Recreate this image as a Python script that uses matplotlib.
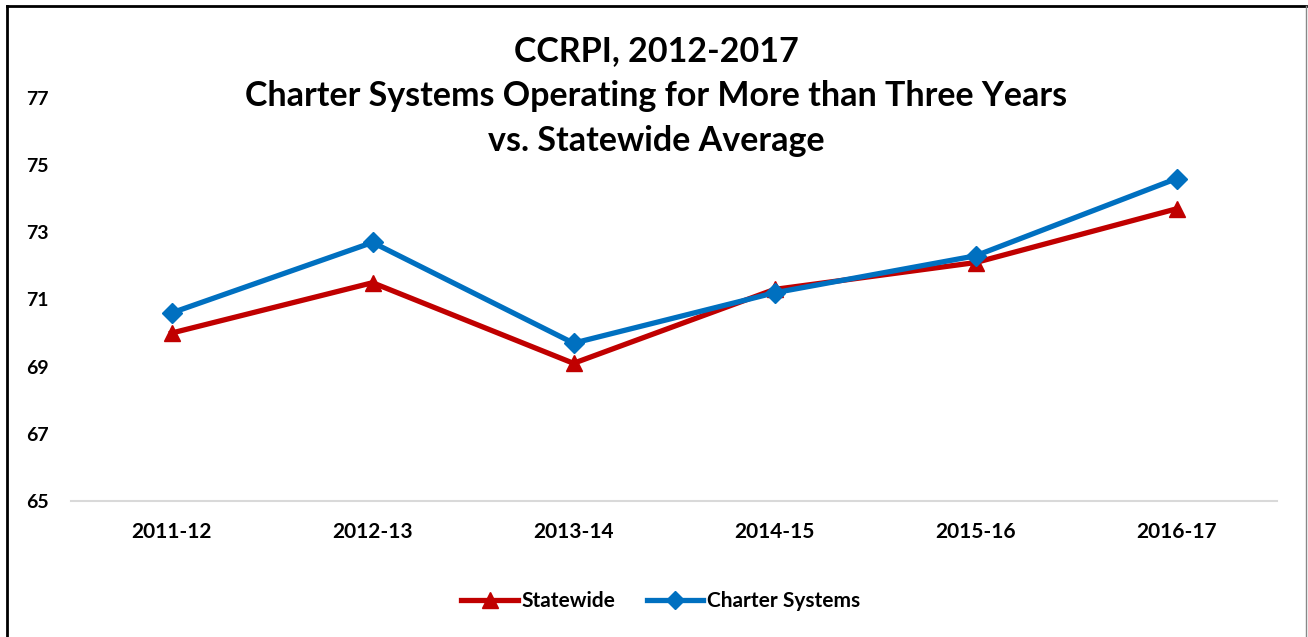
import matplotlib
matplotlib.use("Agg")
import matplotlib.pyplot as plt
from matplotlib.lines import Line2D

categories = ["2011-12", "2012-13", "2013-14", "2014-15", "2015-16", "2016-17"]
statewide = [70.0, 71.5, 69.1, 71.3, 72.1, 73.7]
charter = [70.6, 72.7, 69.7, 71.2, 72.3, 74.6]
yticks = [65, 67, 69, 71, 73, 75, 77]
title = "CCRPI, 2012-2017\nCharter Systems Operating for More than Three Years\nvs. Statewide Average"

plt.rcParams['font.family'] = ['Lato', 'DejaVu Sans']
plt.rcParams['font.weight'] = 'bold'

W, H = 1308, 637
fig = plt.figure(figsize=(W / 100, H / 100), dpi=100)
ax = fig.add_axes([71 / W, (H - 501) / H, 1206 / W, 403 / H])

x = list(range(len(categories)))
red = "#C00000"
blue = "#0070C0"
ax.plot(x, statewide, color=red, lw=3.8, marker="^", ms=11, label="Statewide", zorder=3)
ax.plot(x, charter, color=blue, lw=3.8, marker="D", ms=10, label="Charter Systems", zorder=4)

ax.set_xlim(-0.5, len(categories) - 0.5)
ax.set_ylim(65, 77)
ax.set_yticks(yticks)
ax.set_yticklabels([str(v) for v in yticks], fontsize=14, fontweight='bold')
ax.set_xticks(x)
ax.set_xticklabels(categories, fontsize=15, fontweight='bold')
ax.tick_params(axis='both', length=0)
ax.tick_params(axis='y', pad=16)
ax.tick_params(axis='x', pad=15)
for s in ["top", "right", "left"]:
    ax.spines[s].set_visible(False)
ax.spines["bottom"].set_color("#D9D9D9")
ax.spines["bottom"].set_linewidth(1.5)

fig.text(0.5015, (H - 96) / H, title, ha="center", va="center", fontsize=24.5,
         fontweight="bold", linespacing=1.5)

handles = [Line2D([], [], color=red, lw=3.8, marker="^", ms=11),
           Line2D([], [], color=blue, lw=3.8, marker="D", ms=9)]
fig.legend(handles, ["Statewide", "Charter Systems"], loc="center",
           bbox_to_anchor=(661 / W, (H - 601) / H), ncol=2, frameon=False,
           prop={'weight': 'bold', 'size': 15}, handlelength=2.7,
           columnspacing=1.5, handletextpad=0.2)

# outer border
fig.add_artist(Line2D([7 / W, 7 / W], [0, (H - 6) / H], transform=fig.transFigure, color="black", lw=2))
fig.add_artist(Line2D([7 / W, 1306 / W], [(H - 6) / H, (H - 6) / H], transform=fig.transFigure, color="black", lw=2))
fig.add_artist(Line2D([1306 / W, 1306 / W], [0, (H - 6) / H], transform=fig.transFigure, color="#888888", lw=1))

fig.savefig("out.png", dpi=100)
